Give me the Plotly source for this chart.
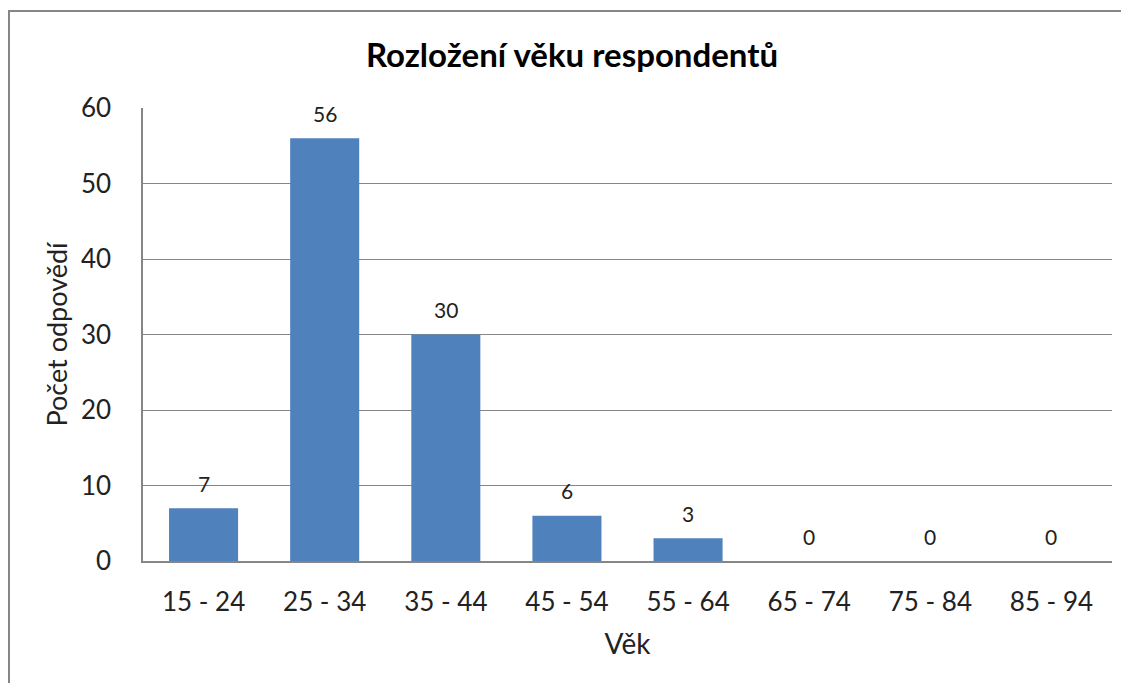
import plotly.graph_objects as go

categories = ["15 - 24", "25 - 34", "35 - 44", "45 - 54", "55 - 64", "65 - 74", "75 - 84", "85 - 94"]
values = [7, 56, 30, 6, 3, 0, 0, 0]
y_ticks = [0, 10, 20, 30, 40, 50, 60]

FONT = "Lato"
W, H = 1121, 675
L, R, T, B = 135, 17, 100, 122
pw = W - L - R
ph = H - T - B

fig = go.Figure()
fig.add_trace(go.Bar(
    x=categories, y=values,
    marker=dict(color="#4F81BD", line=dict(width=0)),
    width=0.57,
    hoverinfo="x+y",
))

for c, v in zip(categories, values):
    fig.add_annotation(x=c, y=v, text=str(v), showarrow=False,
                       yanchor="middle", yshift=25,
                       font=dict(family=FONT, size=21, color="#222222"))

# outer chart border (left and top visible)
fig.add_shape(type="rect", xref="paper", yref="paper",
              x0=(1 - L) / pw, x1=(W + 20 - L) / pw,
              y0=-(H + 20 - T - ph) / ph, y1=(T + ph - 3) / ph,
              line=dict(color="#868686", width=2), layer="below")

fig.update_layout(
    width=W, height=H,
    margin=dict(l=L, r=R, t=T, b=B),
    paper_bgcolor="white", plot_bgcolor="white",
    showlegend=False,
    title=dict(text="<b>Rozložení věku respondentů</b>", x=564 / W, xanchor="center",
               y=1 - 47 / H, yanchor="middle", xref="container", yref="container",
               font=dict(family=FONT, size=33, color="#000000")),
    font=dict(family=FONT, color="#222222"),
    xaxis=dict(
        showgrid=False, showline=True, linecolor="#868686", linewidth=1.5,
        ticks="", tickfont=dict(family=FONT, size=26, color="#222222"),
        ticklabelstandoff=17,
        title=dict(text="Věk", font=dict(family=FONT, size=28, color="#222222"), standoff=18),
    ),
    yaxis=dict(
        range=[0, 60], tickvals=y_ticks, showgrid=True, gridcolor="#868686", gridwidth=1.2,
        showline=True, linecolor="#868686", linewidth=1.5, ticks="", zeroline=False,
        tickfont=dict(family=FONT, size=26, color="#222222"),
        ticklabelstandoff=25,
        title=dict(text="Počet odpovědí", font=dict(family=FONT, size=27, color="#222222"), standoff=5),
    ),
)

fig.write_html("out.html")
